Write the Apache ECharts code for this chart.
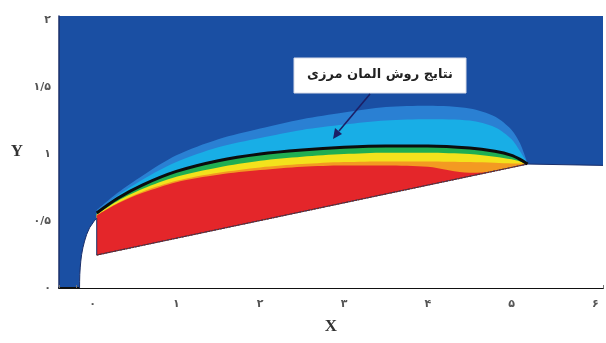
<!DOCTYPE html>
<html>
<head>
<meta charset="utf-8">
<script src="https://cdn.jsdelivr.net/npm/echarts@6/dist/echarts.min.js"></script>
<style>
  html, body { margin: 0; padding: 0; background: #fff; }
  #chart { width: 606px; height: 343px; }
</style>
</head>
<body>
<div id="chart"></div>
<script>
// Tick labels (Persian digits)
const xTickLabels = ['۰', '۱', '۲', '۳', '۴', '۵', '۶'];
const yTickLabels = ['۰', '۰/۵', '۱', '۱/۵', '۲'];

// Stations along the body where contour-band edges are sampled
const xs = [0.05, 0.3, 0.6, 1.0, 1.5, 2.0, 2.5, 3.0, 3.5, 4.0, 4.5, 4.8, 5.0, 5.1, 5.19];

// Upper edge of each contour band (y at each station)
const outerTop  = [0.58, 0.71, 0.84, 0.99, 1.11, 1.19, 1.26, 1.31, 1.35, 1.36, 1.34, 1.28, 1.18, 1.08, 0.93];
const cyanTop   = [0.57, 0.69, 0.81, 0.94, 1.05, 1.12, 1.18, 1.22, 1.25, 1.26, 1.25, 1.20, 1.11, 1.02, 0.93];
const greenTop  = [0.56, 0.67, 0.77, 0.87, 0.95, 1.00, 1.03, 1.05, 1.06, 1.06, 1.045, 1.02, 0.99, 0.96, 0.925];
const yellowTop = [0.55, 0.65, 0.74, 0.83, 0.90, 0.95, 0.98, 1.00, 1.01, 1.01, 1.00, 0.98, 0.96, 0.945, 0.925];
const orangeTop = [0.545, 0.635, 0.72, 0.80, 0.86, 0.90, 0.925, 0.94, 0.945, 0.945, 0.94, 0.935, 0.93, 0.93, 0.925];
const redTop    = [0.54, 0.63, 0.71, 0.79, 0.845, 0.88, 0.905, 0.915, 0.915, 0.905, 0.86, 0.87, 0.90, 0.91, 0.925];

// Boundary element method result (shock line)
const bemLine = [0.56, 0.67, 0.77, 0.87, 0.95, 1.00, 1.03, 1.05, 1.06, 1.06, 1.045, 1.02, 0.99, 0.96, 0.925];

// Body outline: blunt nose, conical flank, then flat afterbody
const bodyX = [-0.155, -0.154, -0.152, -0.147, -0.14, -0.13, -0.115, -0.095, -0.07, -0.035, 0.02, 0.05, 0.05, 5.19, 6.09];
const bodyY = [0, 0.05, 0.1, 0.15, 0.2, 0.25, 0.3, 0.35, 0.4, 0.45, 0.5, 0.52, 0.246, 0.925, 0.915];
const flankX = [0.05, 5.19];
const flankY = [0.246, 0.925];

const pairs = (ax, ay) => ax.map((x, i) => [x, ay[i]]);

const bands = [
  { top: outerTop,  color: '#2a80d3' },
  { top: cyanTop,   color: '#18aee6' },
  { top: greenTop,  color: '#1fae52' },
  { top: yellowTop, color: '#f3e21c' },
  { top: orangeTop, color: '#f39a22' },
  { top: redTop,    color: '#e4262a' }
];

const series = bands.map((b, i) => ({
  type: 'line',
  data: pairs(xs, b.top),
  smooth: 0.3,
  showSymbol: false,
  silent: true,
  z: 2 + i,
  lineStyle: { width: 0 },
  areaStyle: { color: b.color, opacity: 1, origin: 'start' }
}));

series.push({
  type: 'line',
  data: pairs(bodyX, bodyY),
  showSymbol: false,
  silent: true,
  z: 10,
  lineStyle: { width: 1, color: '#1b2f6a' },
  areaStyle: { color: '#ffffff', opacity: 1, origin: 'start' }
});

series.push({
  type: 'line',
  data: pairs(flankX, flankY),
  showSymbol: false,
  silent: true,
  z: 11,
  lineStyle: { width: 1.2, color: '#7a2a1e', type: [2, 1] }
});

series.push({
  type: 'line',
  data: pairs(xs, bemLine),
  smooth: 0.3,
  showSymbol: false,
  silent: true,
  z: 12,
  lineStyle: { width: 3, color: '#0c0c0c' }
});

const chart = echarts.init(document.getElementById('chart'), null, { renderer: 'canvas' });

const isInt = v => Math.abs(v - Math.round(v)) < 1e-6;

chart.setOption({
  animation: false,
  backgroundColor: '#ffffff',
  grid: {
    left: 59, right: 0, top: 16, bottom: 55,
    show: true, backgroundColor: '#1a4fa3', borderWidth: 0
  },
  xAxis: {
    type: 'value',
    min: -0.4, max: 6.09, interval: 0.2,
    name: 'X',
    nameLocation: 'middle',
    nameGap: 30,
    nameTextStyle: { fontFamily: 'Liberation Serif', fontWeight: 'bold', fontSize: 17, color: '#333' },
    axisLine: { onZero: false, lineStyle: { color: '#111', width: 2 } },
    axisTick: { inside: true, length: 3, lineStyle: { color: '#777', width: 1 } },
    splitLine: { show: false },
    axisLabel: {
      interval: 0,
      margin: 11,
      fontFamily: 'DejaVu Sans',
      fontSize: 11,
      fontWeight: 'bold',
      color: '#555',
      formatter: v => (isInt(v) && v >= 0 && v <= 6) ? xTickLabels[Math.round(v)] : ''
    }
  },
  yAxis: {
    type: 'value',
    min: 0, max: 2.03, interval: 0.5,
    name: 'Y',
    nameLocation: 'middle',
    nameRotate: 0,
    nameGap: 36,
    nameTextStyle: { fontFamily: 'Liberation Serif', fontWeight: 'bold', fontSize: 17, color: '#333' },
    axisLine: { onZero: false, lineStyle: { color: '#1b2f6a', width: 1.5 } },
    axisTick: { show: false },
    splitLine: { show: false },
    axisLabel: {
      margin: 8,
      fontFamily: 'DejaVu Sans',
      fontSize: 11,
      fontWeight: 'bold',
      color: '#555',
      formatter: v => {
        const k = Math.round(v / 0.5);
        return Math.abs(v - k * 0.5) < 1e-6 ? yTickLabels[k] : '';
      }
    }
  },
  graphic: [
    {
      type: 'rect', z: 100,
      shape: { x: 294, y: 58, width: 172, height: 35 },
      style: { fill: '#ffffff', stroke: '#d8dce8', lineWidth: 1 }
    },
    {
      type: 'text', z: 101,
      x: 380, y: 75,
      style: {
        text: 'نتایج روش المان مرزی',
        fontFamily: 'DejaVu Sans',
        fontSize: 13,
        fontWeight: 'bold',
        fill: '#222',
        align: 'center',
        verticalAlign: 'middle'
      }
    },
    {
      type: 'line', z: 101,
      shape: { x1: 370, y1: 94, x2: 339, y2: 131 },
      style: { stroke: '#1c1f66', lineWidth: 1.6 }
    },
    {
      type: 'polygon', z: 101,
      shape: { points: [[333, 139], [335, 128], [342, 134]] },
      style: { fill: '#1c1f66' }
    }
  ],
  series: series
});
</script>
</body>
</html>
